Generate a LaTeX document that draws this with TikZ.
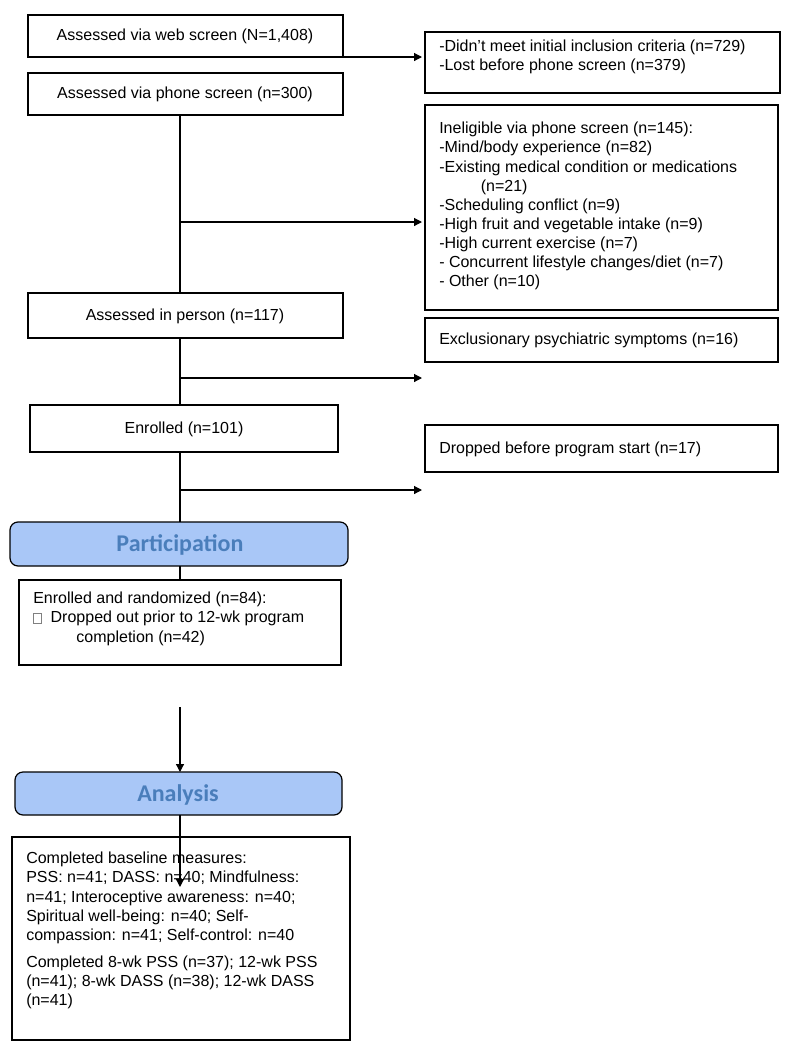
\documentclass[tikz,border=0pt]{standalone}
\usepackage{fontspec}
\setmainfont{Liberation Sans}
\newfontfamily\hdr{Carlito}
\usetikzlibrary{arrows.meta}
\definecolor{hfill}{HTML}{A9C7F7}
\definecolor{htxt}{HTML}{4A7EBB}
\newcommand{\smallsq}{\tikz[baseline=0pt]\draw[line width=0.4pt,gray] (0,0) rectangle (6pt,7.5pt);}
\begin{document}
\begin{tikzpicture}[x=0.75pt,y=-0.75pt,
  box/.style={draw,line width=0.9pt},
  hbox/.style={draw,line width=0.9pt,fill=hfill,rounded corners=6pt},
  txt/.style={font=\fontsize{12}{14.3}\selectfont,inner sep=0pt},
  hd/.style={font=\hdr\bfseries\fontsize{18}{20}\selectfont,text=htxt},
  ln/.style={line width=0.9pt},
  ar/.style={line width=0.9pt,-{Triangle[length=6pt,width=6pt]}}]
\useasboundingbox (0,0) rectangle (788,1050);
% boxes
\draw[box] (28,15) rectangle (343,57);
\node[txt] (web) at (185,36) {Assessed via web screen (N=1,408)};
\draw[box] (28,73) rectangle (343,115);
\node[txt] (phone) at (185,94) {Assessed via phone screen (n=300)};
\draw[box] (425,32) rectangle (780,93);
\node[txt,align=left,anchor=north west] (r1) at (439,40) {-Didn’t meet initial inclusion criteria (n=729)\\-Lost before phone screen (n=379)};
\draw[box] (425,105) rectangle (778,310);
\node[txt,align=left,anchor=north west] (r2) at (439,122) {Ineligible via phone screen (n=145):\\-Mind/body experience (n=82)\\-Existing medical condition or medications\\\hspace*{2.6em}(n=21)\\-Scheduling conflict (n=9)\\-High fruit and vegetable intake (n=9)\\-High current exercise (n=7)\\- Concurrent lifestyle changes/diet (n=7)\\- Other (n=10)};
\draw[box] (28,293) rectangle (343,338);
\node[txt] (inp) at (185,316) {Assessed in person (n=117)};
\draw[box] (425,318) rectangle (778,362);
\node[txt,anchor=west] (ex) at (439,340) {Exclusionary psychiatric symptoms (n=16)};
\draw[box] (30,405) rectangle (338,452);
\node[txt] (enr) at (184,429) {Enrolled (n=101)};
\draw[box] (425,425) rectangle (778,472);
\node[txt,anchor=west] (drop) at (439,449) {Dropped before program start (n=17)};
\draw[hbox] (10,522) rectangle (348,566);
\node[hd] (part) at (180,545) {Participation};
\draw[box] (19,580) rectangle (341,665);
\node[txt,align=left,anchor=north west] (rand) at (33,592) {Enrolled and randomized (n=84):\\\smallsq\ \ Dropped out prior to 12-wk program\\\hspace*{2.7em}completion (n=42)};
\draw[hbox] (15,772) rectangle (342,815);
\node[hd] (ana) at (178,795) {Analysis};
\draw[box] (12,837) rectangle (350,1040);
\node[txt,align=left,anchor=north west] (fin) at (26,852) {Completed baseline measures:\\PSS: n=41; DASS: n=40; Mindfulness:\\n=41; Interoceptive awareness: n=40;\\Spiritual well-being: n=40; Self-\\compassion: n=41; Self-control: n=40\\[6pt]Completed 8-wk PSS (n=37); 12-wk PSS\\(n=41); 8-wk DASS (n=38); 12-wk DASS\\(n=41)};
% coordinates and connectors
\coordinate (a1) at (343,57); \coordinate (a1e) at (422,57);
\draw[ar] (a1) -- (a1e);
\coordinate (p0) at (180,115); \coordinate (p1) at (180,293);
\draw[ln] (p0) -- (p1);
\coordinate (b0) at (180,222); \coordinate (b1) at (422,222);
\draw[ar] (b0) -- (b1);
\coordinate (q0) at (180,338); \coordinate (q1) at (180,405);
\draw[ln] (q0) -- (q1);
\coordinate (c0) at (180,378); \coordinate (c1) at (422,378);
\draw[ar] (c0) -- (c1);
\coordinate (s0) at (180,452); \coordinate (s1) at (180,522);
\draw[ln] (s0) -- (s1);
\coordinate (d0) at (180,490); \coordinate (d1) at (422,490);
\draw[ar] (d0) -- (d1);
\coordinate (t0) at (180,566); \coordinate (t1) at (180,580);
\draw[ln] (t0) -- (t1);
\coordinate (u0) at (180,707); \coordinate (u1) at (180,772);
\draw[ar] (u0) -- (u1);
\coordinate (v0) at (180,815); \coordinate (v1) at (180,887);
\draw[ar] (v0) -- (v1);
\end{tikzpicture}
\end{document}
